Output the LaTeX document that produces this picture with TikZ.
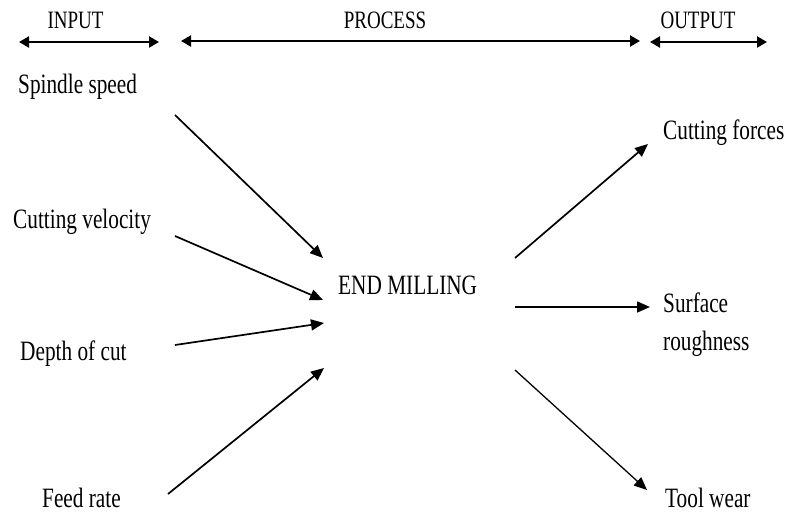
\documentclass[tikz,border=0pt]{standalone}
\usepackage{fontspec}
\setmainfont{Liberation Serif}
\newfontfamily\labfont[FakeStretch=0.76]{Liberation Serif}
\usetikzlibrary{arrows.meta}
\begin{document}
\begin{tikzpicture}[x=1pt,y=-1pt,
  lab/.style={anchor=base west,inner sep=0pt,font=\labfont\fontsize{28}{32}\selectfont},
  head/.style={anchor=base,inner sep=0pt,font=\labfont\fontsize{25}{30}\selectfont},
  flow/.style={line width=1.7pt,-{Triangle[length=13pt,width=11pt]}},
  span/.style={line width=2.2pt,{Triangle[length=10pt,width=11pt]}-{Triangle[length=10pt,width=11pt]}}]
\fill[white] (0,0) rectangle (787,512);
\useasboundingbox (0,0) rectangle (787,512);
% headers
\node[head] (hin) at (75.5,28) {INPUT};
\node[head] (hpr) at (385,28) {PROCESS};
\node[head] (hout) at (698,28) {OUTPUT};
\coordinate (i1) at (19,42); \coordinate (i2) at (159,42);
\coordinate (p1) at (181,41); \coordinate (p2) at (640,41);
\coordinate (o1) at (650,42); \coordinate (o2) at (767,42);
\draw[span] (i1) -- (i2);
\draw[span] (p1) -- (p2);
\draw[span] (o1) -- (o2);
% inputs
\node[lab] (ss) at (18,93) {Spindle speed};
\node[lab] (cv) at (13,228) {Cutting velocity};
\node[lab] (dc) at (20,360) {Depth of cut};
\node[lab] (fr) at (42,507) {Feed rate};
% process
\node[lab] (em) at (338,294) {END MILLING};
% outputs
\node[lab] (cf) at (663,139) {Cutting forces};
\node[lab] (sr) at (663,312) {Surface};
\node[lab] (sr2) at (663,350) {roughness};
\node[lab] (tw) at (665,507) {Tool wear};
% connector ends
\coordinate (a1s) at (175,115); \coordinate (a1e) at (323,258);
\coordinate (a2s) at (175,236); \coordinate (a2e) at (323,300);
\coordinate (a3s) at (175,345); \coordinate (a3e) at (324,323);
\coordinate (a4s) at (168,494); \coordinate (a4e) at (324,368);
\coordinate (b1s) at (515,258); \coordinate (b1e) at (648,144);
\coordinate (b2s) at (515,307); \coordinate (b2e) at (650,307);
\coordinate (b3s) at (515,370); \coordinate (b3e) at (647,490);
\draw[flow] (a1s) -- (a1e);
\draw[flow] (a2s) -- (a2e);
\draw[flow] (a3s) -- (a3e);
\draw[flow] (a4s) -- (a4e);
\draw[flow] (b1s) -- (b1e);
\draw[flow] (b2s) -- (b2e);
\draw[flow,line width=1.3pt] (b3s) -- (b3e);
\end{tikzpicture}
\end{document}
